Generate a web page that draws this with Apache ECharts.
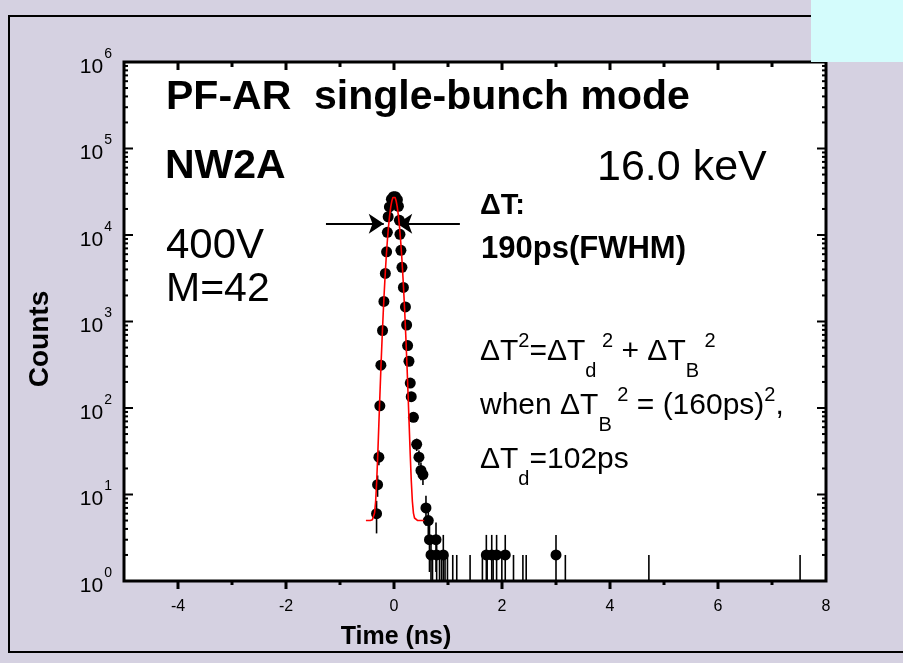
<!DOCTYPE html>
<html>
<head>
<meta charset="utf-8">
<script src="https://cdn.jsdelivr.net/npm/echarts@6/dist/echarts.min.js"></script>
<style>
html,body{margin:0;padding:0;background:#D5D1E1;}
#chart{width:903px;height:663px;}
</style>
</head>
<body>
<div id="chart"></div>
<script>
const timeNs = [
  -0.323, -0.304, -0.280, -0.262, -0.243, -0.212, -0.187, -0.160, -0.137, -0.123,
  -0.108, -0.085, -0.048, -0.011, 0.026, 0.063, 0.082, 0.100, 0.110, 0.128,
  0.147, 0.174, 0.212, 0.234, 0.252, 0.277, 0.301, 0.319, 0.360, 0.420,
  0.462, 0.499, 0.536, 0.592, 0.635, 0.657, 0.685, 0.713, 0.778, 0.790,
  0.843, 0.880, 0.913, 0.945, 0.990, 1.088, 1.162, 1.409, 1.637, 1.710,
  1.725, 1.810, 1.836, 1.900, 1.997, 2.060, 2.213, 2.387, 2.448, 3.000,
  3.173, 4.720, 7.520
];
const counts = [
  6, 13, 27, 106, 313, 787, 1706, 3597, 6390, 10740,
  16250, 21090, 25900, 27700, 27700, 25570, 21490, 14790, 10180, 6650,
  4225, 2477, 1473, 911, 527, 347, 194, 135, 78, 38,
  27, 19, 17, 7, 5, 3, 2, 1, 3, 2,
  1, 1, 2, 1, 1, 1, 1, 1, 1, 2,
  1, 2, 1, 2, 1, 2, 1, 1, 1, 2,
  1, 1, 1
];
// Poisson error bars (sqrt of counts), read/rounded
const countErr = [
  2.45, 3.6, 5.2, 10.3, 17.7, 28, 41, 60, 80, 104,
  127, 145, 161, 166, 166, 160, 147, 122, 101, 82,
  65, 50, 38, 30, 23, 18.6, 13.9, 11.6, 8.8, 6.2,
  5.2, 4.4, 4.1, 2.65, 2.24, 1.73, 1.41, 1, 1.73, 1.41,
  1, 1, 1.41, 1, 1, 1, 1, 1, 1, 1.41,
  1, 1.41, 1, 1.41, 1, 1.41, 1, 1, 1, 1.41,
  1, 1, 1
];
// Gaussian fit curve (red)
const fitTimeNs = [
  -0.52, -0.48, -0.44, -0.42, -0.40, -0.38, -0.36, -0.34, -0.32, -0.30,
  -0.28, -0.26, -0.24, -0.22, -0.20, -0.18, -0.16, -0.14, -0.12, -0.10,
  -0.08, -0.06, -0.04, -0.02, 0.00, 0.02, 0.04, 0.06, 0.08, 0.10,
  0.12, 0.14, 0.16, 0.18, 0.20, 0.22, 0.24, 0.26, 0.28, 0.30,
  0.32, 0.34, 0.36, 0.38, 0.40, 0.44, 0.50, 0.56
];
const fitCounts = [
  5.0, 5.0, 5.0, 5.0, 5.1, 5.35, 6.1, 8.35, 14.4, 29.7,
  66, 147, 316, 643, 1235, 2233, 3794, 6062, 9096, 12824,
  16987, 21140, 24715, 27143, 28005, 27143, 24715, 21140, 16987, 12824,
  9096, 6062, 3794, 2233, 1235, 643, 316, 147, 66, 29.7,
  14.4, 8.35, 6.1, 5.35, 5.1, 5.0, 5.0, 5.0
];
// FWHM arrows (data coordinates)
const arrowCount = 13500;
const arrowLeft = [-1.26, -0.19];
const arrowRight = [1.22, 0.06];
// tick labels
const xTickLabels = [-4, -2, 0, 2, 4, 6, 8];
const yTickExponents = [0, 1, 2, 3, 4, 5, 6];

const FONT = '"Liberation Sans", Arial, sans-serif';
const X_MIN = -5, X_MAX = 8, Y_MIN = 1, Y_MAX = 1e6;

// frame ticks: [x, y, kind] kind 0 x-major,1 x-minor,2 y-major,3 y-minor
const tickItems = [];
for (let v = X_MIN + 1; v < X_MAX; v++) {
  tickItems.push([v, Y_MIN, xTickLabels.indexOf(v) >= 0 ? 0 : 1]);
}
yTickExponents.forEach(function (e) {
  if (e > 0 && e < 6) tickItems.push([X_MIN, Math.pow(10, e), 2]);
  if (e < 6) for (let m = 2; m <= 9; m++) tickItems.push([X_MIN, m * Math.pow(10, e), 3]);
});

const chart = echarts.init(document.getElementById('chart'), null, {renderer: 'canvas'});

const scatterData = timeNs.map(function (t, i) { return [t, counts[i], countErr[i]]; });
const fitData = fitTimeNs.map(function (t, i) { return [t, fitCounts[i]]; });

const richFormula = {
  n: {fontSize: 30, fontFamily: FONT, color: '#000'},
  sup: {fontSize: 20, fontFamily: FONT, color: '#000', padding: [0, 0, 22, 0]},
  sub: {fontSize: 20, fontFamily: FONT, color: '#000', padding: [38, 0, 0, 0]}
};

const option = {
  backgroundColor: '#D5D1E1',
  animation: false,
  grid: {
    left: 124, right: 77, top: 62, bottom: 82,
    show: true, backgroundColor: '#fff', borderColor: '#000', borderWidth: 3
  },
  xAxis: {
    type: 'value', min: X_MIN, max: X_MAX, interval: 1,
    axisLine: {show: false}, axisTick: {show: false}, splitLine: {show: false},
    axisLabel: {
      margin: 18, color: '#000', fontSize: 16, fontFamily: FONT,
      formatter: function (v) { return xTickLabels.indexOf(v) >= 0 ? String(v) : ''; }
    }
  },
  yAxis: {
    type: 'log', logBase: 10, min: Y_MIN, max: Y_MAX,
    axisLine: {show: false}, axisTick: {show: false}, splitLine: {show: false},
    minorTick: {show: false},
    axisLabel: {
      margin: 12, color: '#000',
      formatter: function (v) {
        const e = Math.round(Math.log10(v));
        return '{b|10}{s|' + e + '}';
      },
      rich: {
        b: {fontSize: 21, fontFamily: FONT, color: '#000', padding: [10, 0, 0, 0]},
        s: {fontSize: 14, fontFamily: FONT, color: '#000', padding: [0, 0, 16, 1]}
      }
    }
  },
  graphic: [
    {type: 'rect', z: 0, shape: {x: 9, y: 16, width: 930, height: 636},
     style: {fill: 'none', stroke: '#000', lineWidth: 2}},
    {type: 'rect', z: 1, shape: {x: 811, y: 0, width: 92, height: 62},
     style: {fill: '#D4FCFC'}},
    {type: 'text', x: 166, y: 98, z: 10,
     style: {text: 'PF-AR  single-bunch mode', font: 'bold 41px ' + FONT, fill: '#000', verticalAlign: 'middle'}},
    {type: 'text', x: 165, y: 167, z: 10,
     style: {text: 'NW2A', font: 'bold 41px ' + FONT, fill: '#000', verticalAlign: 'middle'}},
    {type: 'text', x: 597, y: 168, z: 10,
     style: {text: '16.0 keV', font: '43px ' + FONT, fill: '#000', verticalAlign: 'middle'}},
    {type: 'text', x: 166, y: 246, z: 10,
     style: {text: '400V', font: '42px ' + FONT, fill: '#000', verticalAlign: 'middle'}},
    {type: 'text', x: 166, y: 290, z: 10,
     style: {text: 'M=42', font: '41px ' + FONT, fill: '#000', verticalAlign: 'middle'}},
    {type: 'text', x: 480, y: 206, z: 10,
     style: {text: '\u0394T:', font: 'bold 29px ' + FONT, fill: '#000', verticalAlign: 'middle'}},
    {type: 'text', x: 481, y: 249, z: 10,
     style: {text: '190ps(FWHM)', font: 'bold 31px ' + FONT, fill: '#000', verticalAlign: 'middle'}},
    {type: 'text', x: 480, y: 352, z: 10,
     style: {text: '{n|\u0394T}{sup|2}{n|=\u0394T}{sub|d}{sup| 2}{n| + \u0394T}{sub|B}{sup| 2}',
             rich: richFormula, verticalAlign: 'middle'}},
    {type: 'text', x: 480, y: 406, z: 10,
     style: {text: '{n|when \u0394T}{sub|B}{sup| 2}{n| = (160ps)}{sup|2}{n|,}',
             rich: richFormula, verticalAlign: 'middle'}},
    {type: 'text', x: 480, y: 460, z: 10,
     style: {text: '{n|\u0394T}{sub|d}{n|=102ps}',
             rich: richFormula, verticalAlign: 'middle'}},
    {type: 'text', x: 396, y: 637, z: 10,
     style: {text: 'Time (ns)', font: 'bold 25px ' + FONT, fill: '#000', align: 'center', verticalAlign: 'middle'}},
    {type: 'text', x: 40, y: 339, z: 10, rotation: Math.PI / 2,
     style: {text: 'Counts', font: 'bold 28px ' + FONT, fill: '#000', align: 'center', verticalAlign: 'middle'}}
  ],
  series: [
    {
      type: 'custom', name: 'frameTicks', silent: true, z: 5,
      data: tickItems,
      renderItem: function (params, api) {
        const x = api.value(0), y = api.value(1), kind = api.value(2);
        if (kind <= 1) {
          const b = api.coord([x, Y_MIN]);
          const t = api.coord([x, Y_MAX]);
          const lb = kind === 0 ? 8 : 4;
          const lt = kind === 0 ? 8 : 5;
          return {type: 'group', children: [
            {type: 'line', shape: {x1: b[0], y1: b[1], x2: b[0], y2: b[1] + lb}, style: {stroke: '#000', lineWidth: 3}},
            {type: 'line', shape: {x1: t[0], y1: t[1], x2: t[0], y2: t[1] + lt}, style: {stroke: '#000', lineWidth: 3}}
          ]};
        }
        const l = api.coord([X_MIN, y]);
        const r = api.coord([X_MAX, y]);
        const len = kind === 2 ? 9 : 4;
        return {type: 'group', children: [
          {type: 'line', shape: {x1: l[0], y1: l[1], x2: l[0] + len, y2: l[1]}, style: {stroke: '#000', lineWidth: 2}},
          {type: 'line', shape: {x1: r[0], y1: r[1], x2: r[0] - len, y2: r[1]}, style: {stroke: '#000', lineWidth: 2}}
        ]};
      }
    },
    {
      type: 'custom', name: 'errorBars', silent: true, z: 3,
      data: scatterData,
      encode: {x: 0, y: 1},
      renderItem: function (params, api) {
        const t = api.value(0), v = api.value(1), e = api.value(2);
        const lo = Math.max(v - e, Y_MIN), hi = Math.min(v + e, Y_MAX);
        const p1 = api.coord([t, lo]), p2 = api.coord([t, hi]);
        return {type: 'line', shape: {x1: p1[0], y1: p1[1], x2: p2[0], y2: p2[1]},
                style: {stroke: '#000', lineWidth: 1.6}};
      }
    },
    {
      type: 'scatter', name: 'data', z: 4, silent: true,
      data: scatterData,
      symbol: 'circle',
      symbolSize: function (val) { return val[1] > 1 ? 11 : 0; },
      itemStyle: {color: '#000', opacity: 1}
    },
    {
      type: 'line', name: 'fit', z: 6, silent: true,
      data: fitData, showSymbol: false, symbol: 'none',
      lineStyle: {color: '#FF0000', width: 1.6},
      markLine: {
        silent: true, symbol: ['none', 'arrow'], symbolSize: 15,
        label: {show: false},
        lineStyle: {type: 'solid', color: '#000', width: 2.2},
        emphasis: {disabled: true},
        data: [
          [{coord: [arrowLeft[0], arrowCount]}, {coord: [arrowLeft[1], arrowCount]}],
          [{coord: [arrowRight[0], arrowCount]}, {coord: [arrowRight[1], arrowCount]}]
        ]
      }
    }
  ]
};
chart.setOption(option);
</script>
</body>
</html>
